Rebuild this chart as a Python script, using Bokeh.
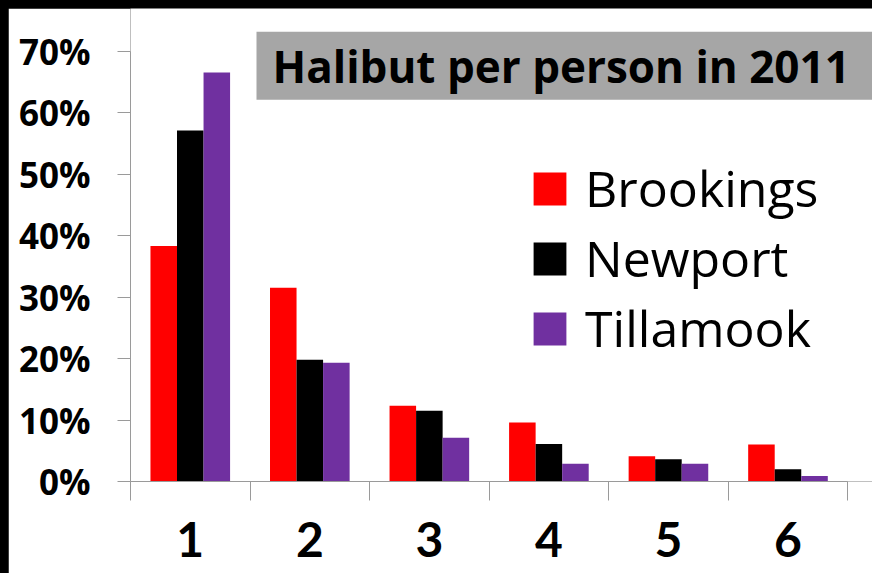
from bokeh.plotting import figure
from bokeh.models import Range1d, FixedTicker, Legend, LegendItem, Label
from bokeh.embed import file_html
from bokeh.resources import INLINE

# ---- data ----
categories = ["1", "2", "3", "4", "5", "6"]
series_names = ["Brookings", "Newport", "Tillamook"]
brookings = [0.383, 0.315, 0.123, 0.096, 0.041, 0.060]
newport = [0.571, 0.198, 0.115, 0.061, 0.036, 0.020]
tillamook = [0.665, 0.193, 0.071, 0.029, 0.029, 0.009]
y_ticks = [0.0, 0.1, 0.2, 0.3, 0.4, 0.5, 0.6, 0.7]
y_tick_labels = ["0%", "10%", "20%", "30%", "40%", "50%", "60%", "70%"]
title_text = "Halibut per person in 2011"

colors = ["#ff0000", "#000000", "#7030a0"]
axis_gray = "#9a9a9a"

n = len(categories)
W, H = 864, 565
p = figure(width=W, height=H, output_backend="svg", toolbar_location=None,
           x_range=Range1d(0, 6.207), y_range=Range1d(0, 0.7692),
           min_border_left=122, min_border_right=0, min_border_top=0,
           min_border_bottom=92)
p.background_fill_color = "white"
p.border_fill_color = "white"
p.outline_line_color = None
p.xgrid.visible = False
p.ygrid.visible = False

bar_w = 0.222
offsets = [-bar_w, 0.0, bar_w]
series = [brookings, newport, tillamook]
items = []
for name, vals, off, col in zip(series_names, series, offsets, colors):
    xs = [i + 0.5 + off for i in range(n)]
    r = p.vbar(x=xs, top=vals, width=bar_w, bottom=0, fill_color=col, line_color=None)
    items.append(LegendItem(label=name, renderers=[r]))

# y axis
ya = p.yaxis[0]
ya.ticker = FixedTicker(ticks=y_ticks, minor_ticks=[])
ya.major_label_overrides = {t: s for t, s in zip(y_ticks, y_tick_labels)}
ya.bounds = (0, 0.7)
ya.axis_line_color = axis_gray
ya.major_tick_line_color = axis_gray
ya.major_tick_in = 0
ya.major_tick_out = 13
ya.minor_tick_line_color = None
ya.major_label_standoff = 27
ya.major_label_text_font = "Open Sans"
ya.major_label_text_font_style = "bold"
ya.major_label_text_font_size = "35px"
ya.major_label_text_color = "black"

# x axis: labels at category centers, tick marks at category boundaries
xa = p.xaxis[0]
xa.ticker = FixedTicker(ticks=[i + 0.5 for i in range(n)],
                        minor_ticks=[float(i) for i in range(n + 1)])
xa.major_label_overrides = {i + 0.5: c for i, c in enumerate(categories)}
xa.bounds = (0, n)
xa.axis_line_color = axis_gray
xa.major_tick_line_color = None
xa.major_tick_in = 0
xa.major_tick_out = 19
xa.minor_tick_line_color = axis_gray
xa.minor_tick_in = 0
xa.minor_tick_out = 19
xa.major_label_standoff = 21
xa.major_label_text_font = "Lato"
xa.major_label_text_font_style = "bold"
xa.major_label_text_font_size = "48px"
xa.major_label_text_color = "black"

legend = Legend(items=items, location=(399, 118), orientation="vertical",
                padding=0, margin=0, spacing=0,
                glyph_width=41, glyph_height=41, label_height=70,
                label_standoff=15,
                label_text_font="Open Sans", label_text_font_size="50px",
                label_text_color="black",
                border_line_color=None, background_fill_alpha=0)
p.add_layout(legend)

title = Label(x=126, y=415.7, x_units="screen", y_units="screen",
              text=title_text, text_font="Open Sans", text_font_style="bold",
              text_font_size="44px", text_color="black", text_baseline="middle",
              background_fill_color="#a6a6a6",
              padding=dict(left=16, right=40, top=4, bottom=4))
p.add_layout(title)

html = file_html(p, INLINE, title=title_text)
html = html.replace(
    "</head>",
    "<style>html{background:#000}body{margin:0;padding:8px 0 0 8px;"
    "background:#000;overflow:hidden}</style></head>", 1)
open("out.html", "w").write(html)
